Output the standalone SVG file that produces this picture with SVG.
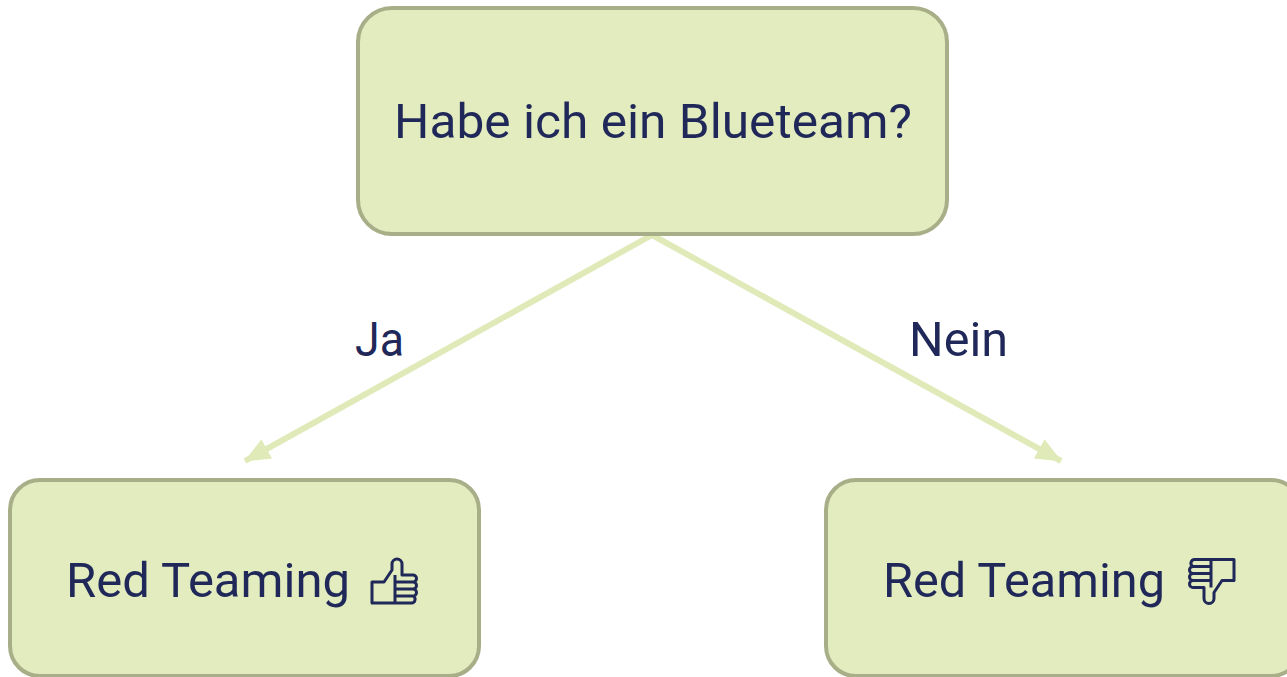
<svg xmlns="http://www.w3.org/2000/svg" width="1287" height="677" viewBox="0 0 1287 677">
<style>
.box{fill:#e2ecbf;stroke:#a8af88;stroke-width:4}
.lbl{font-family:Roboto,"Liberation Sans",sans-serif;font-size:49px;fill:#1f2858}
.edge{stroke:#e0eab9;stroke-width:6;fill:none}
.icon{fill:none;stroke:#1f2858;stroke-width:3;stroke-linejoin:round}
</style>
<defs>
<marker id="ah" viewBox="0 0 26 22" refX="25" refY="11" markerWidth="26" markerHeight="22" markerUnits="userSpaceOnUse" orient="auto">
<path d="M0,0 L26,11 L0,22 Z" fill="#e0eab9"/>
</marker>
<g id="thumb">
<path class="icon" d="M-23,1 H-11 L-3,-11 V-17 A5,5 0 0 1 7,-17 V-6 H18 A3.5,3.5 0 0 1 18,1 A3.5,3.5 0 0 1 18,8 A3.5,3.5 0 0 1 18,15 A3.7,3.7 0 0 1 16,22 H-23 Z M0,-6 V22 M0,1 H18 M0,8 H18 M0,15 H18"/>
</g>
</defs>
<g id="connectors">
<line class="edge" x1="652" y1="235" x2="245" y2="461" marker-end="url(#ah)"/>
<line class="edge" x1="652" y1="235" x2="1061" y2="461" marker-end="url(#ah)"/>
<text class="lbl" x="355" y="356" textLength="49" lengthAdjust="spacingAndGlyphs">Ja</text>
<text class="lbl" x="909" y="356" textLength="99" lengthAdjust="spacingAndGlyphs">Nein</text>
</g>
<g id="question">
<rect class="box" x="358" y="8" width="589" height="226" rx="34"/>
<text class="lbl" x="394" y="138" textLength="518" lengthAdjust="spacingAndGlyphs">Habe ich ein Blueteam?</text>
</g>
<g id="yes">
<rect class="box" x="10" y="480" width="469" height="196" rx="30"/>
<text class="lbl" x="66" y="597" textLength="284" lengthAdjust="spacingAndGlyphs">Red Teaming</text>
<use href="#thumb" transform="translate(395,581)"/>
</g>
<g id="no">
<rect class="box" x="826" y="480" width="475" height="196" rx="30"/>
<text class="lbl" x="883" y="597" textLength="282" lengthAdjust="spacingAndGlyphs">Red Teaming</text>
<use href="#thumb" transform="translate(1211,581.5) rotate(180)"/>
</g>
</svg>
